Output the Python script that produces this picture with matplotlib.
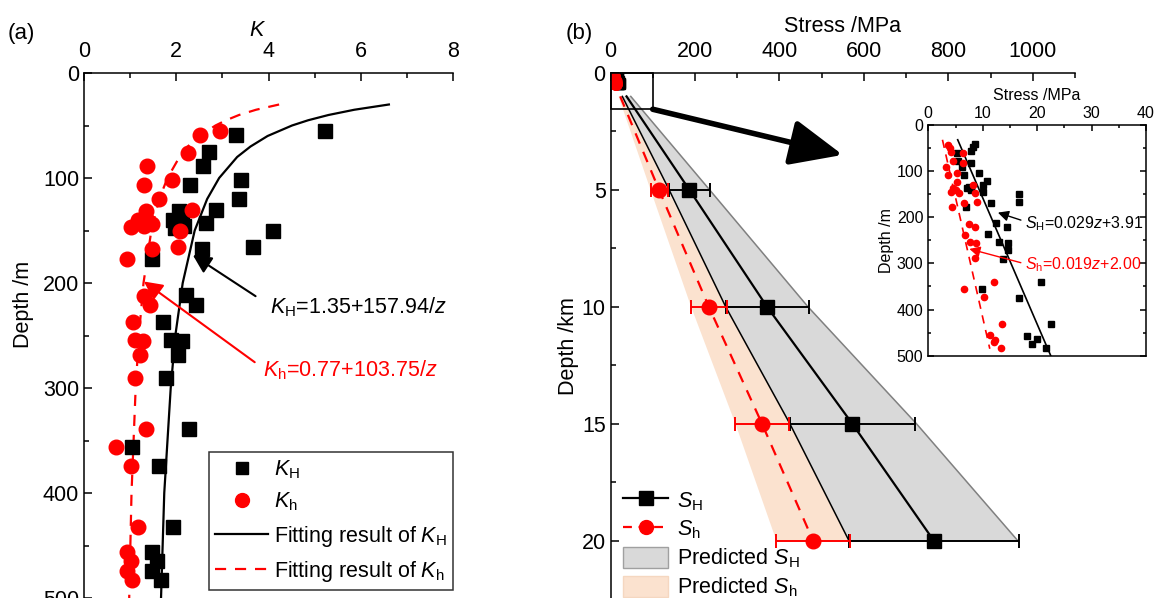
import numpy as np
import matplotlib
matplotlib.use("Agg")
import matplotlib.pyplot as plt
from matplotlib.patches import Rectangle, Patch
from matplotlib.lines import Line2D
from matplotlib.ticker import MultipleLocator

plt.rcParams['font.family'] = ['Liberation Sans', 'DejaVu Sans']
plt.rcParams['mathtext.fontset'] = 'custom'
plt.rcParams['mathtext.rm'] = 'Liberation Sans'
plt.rcParams['mathtext.it'] = 'Liberation Sans:italic'

# ---- panel (a): K ratios vs depth (m)
KH_depth = [55, 59, 75.5, 89, 102, 107, 120, 130.5, 131, 140, 140, 146, 148, 143, 150, 166, 168,
            177.5, 211.5, 221, 237, 254, 255, 269, 290, 339, 356, 374, 432, 456.5, 465, 474, 483]
KH_val = [5.23, 3.29, 2.70, 2.59, 3.40, 2.30, 3.35, 2.86, 2.07, 1.92, 2.13, 2.16, 1.97, 2.64, 4.09, 3.67, 2.55,
          1.47, 2.21, 2.42, 1.72, 1.89, 2.13, 2.03, 1.77, 2.27, 1.03, 1.63, 1.94, 1.47, 1.59, 1.47, 1.67]
Kh_depth = [55, 59, 76, 89, 107, 102, 120, 130.5, 131, 140, 140, 146, 144, 147, 150, 166, 167.6,
            177.5, 212, 221, 237, 254.6, 255.6, 269, 290, 339, 356, 374, 432, 456.5, 465, 474, 483]
Kh_val = [2.95, 2.52, 2.25, 1.36, 1.30, 1.90, 1.63, 2.35, 1.34, 1.16, 1.36, 1.29, 1.47, 1.01, 2.08, 2.03, 1.47,
          0.93, 1.30, 1.43, 1.06, 1.10, 1.28, 1.21, 1.11, 1.34, 0.69, 1.02, 1.16, 0.93, 1.02, 0.93, 1.03]

# fitted curves
fit_depth = [30, 35, 40, 45, 50, 60, 70, 80, 100, 120, 150, 200, 250, 300, 400, 500]
fitKH = [6.61, 5.86, 5.30, 4.86, 4.51, 3.98, 3.61, 3.32, 2.93, 2.67, 2.40, 2.14, 1.98, 1.88, 1.74, 1.67]
fitKh = [4.23, 3.73, 3.36, 3.08, 2.85, 2.50, 2.25, 2.07, 1.81, 1.63, 1.46, 1.29, 1.19, 1.12, 1.03, 0.98]

# ---- panel (b): stress vs depth (km)
pred_depth = [1, 5, 10, 15, 20]
SH_mid = [38, 187, 371, 573, 766]
SH_lo = [28, 139, 273, 425, 565]
SH_hi = [48, 235, 468, 725, 965]
Sh_mid = [23, 115, 233, 359, 480]
Sh_lo = [19, 95, 191, 296, 393]
Sh_hi = [28, 136, 273, 425, 565]

# inset: measured stresses (MPa) vs depth (m)
SH_in_depth = [42, 48, 56, 61, 77, 82, 90, 103, 108, 121, 130, 134, 138, 141, 137, 145, 150, 166, 168,
               178, 213, 222, 237, 253, 256, 270, 291, 340, 355, 374, 432, 457, 464, 475, 484]
SH_in_val = [8.65, 8.2, 7.8, 5.2, 5.5, 7.8, 6.2, 9.3, 6.6, 10.7, 10.1, 7.4, 7.8, 7.9, 7.2, 10.0, 16.6, 16.6, 11.5,
             6.9, 12.5, 14.4, 11.0, 12.9, 14.7, 14.7, 13.8, 20.7, 9.8, 16.6, 22.6, 18.2, 19.9, 19.1, 21.7]
Sh_in_depth = [43, 50, 58, 61, 77, 82, 90, 103, 108, 123, 131, 137, 140, 145, 147, 148, 166, 168, 178,
               215, 222, 238, 254, 256, 289, 340, 355, 373, 431, 455, 466, 470, 484]
Sh_in_val = [3.7, 3.9, 4.2, 6.4, 4.6, 6.4, 3.2, 5.2, 3.7, 5.3, 8.3, 4.6, 5.0, 4.2, 5.6, 8.5, 9.0, 6.6, 4.4,
             7.4, 8.6, 6.7, 7.7, 8.8, 8.6, 12.1, 6.6, 10.3, 13.5, 11.3, 12.3, 12.1, 13.4]
in_fit_depth = [32, 500]
in_fit_SH = [5.4, 22.5]
in_fit_Sh_depth = [32, 485]
in_fit_Sh = [2.6, 11.3]

RED = '#ff0000'
FS = 15.5

fig = plt.figure(figsize=(11.55, 5.98), dpi=100)


def style(ax, fs=FS, major=6, minor=3.5, pad=6):
    ax.xaxis.tick_top()
    ax.xaxis.set_label_position('top')
    ax.tick_params(which='both', direction='in', width=1.1, labelsize=fs, top=True, bottom=False)
    ax.tick_params(which='major', length=major)
    ax.tick_params(which='minor', length=minor)
    ax.tick_params(axis='x', pad=pad)
    for s in ax.spines.values():
        s.set_linewidth(1.1)


# ================= (a)
axa = fig.add_axes([84 / 1155, 0, 369 / 1155, 525 / 598])
axa.plot(fitKH, fit_depth, color='k', lw=1.6, zorder=2)
axa.plot(fitKh, fit_depth, color=RED, lw=1.6, ls=(0, (5, 4)), zorder=2)
axa.plot(KH_val, KH_depth, 's', color='k', ms=9.5, ls='none', zorder=3)
axa.plot(Kh_val, Kh_depth, 'o', color=RED, ms=10.5, ls='none', zorder=3)
axa.set_xlim(0, 8)
axa.set_ylim(500, 0)
style(axa, pad=8)
axa.xaxis.set_major_locator(MultipleLocator(2))
axa.xaxis.set_minor_locator(MultipleLocator(1))
axa.yaxis.set_major_locator(MultipleLocator(100))
axa.yaxis.set_minor_locator(MultipleLocator(50))
axa.spines['right'].set_visible(False)
axa.spines['bottom'].set_visible(False)
axa.set_xlabel('$K$', fontsize=FS)
axa.xaxis.set_label_coords(0.47, 1.07)
axa.set_ylabel('Depth /m', fontsize=FS)
axa.yaxis.set_label_coords(-0.135, 0.56)

axa.annotate('', xy=(2.31, 172), xytext=(3.77, 214),
             arrowprops=dict(arrowstyle='-|>', color='k', lw=1.5, mutation_scale=28))
axa.text(4.03, 223, r'$K_\mathrm{H}$=1.35+157.94/$z$', fontsize=FS, va='center', color='k')
axa.annotate('', xy=(1.25, 197), xytext=(3.75, 277),
             arrowprops=dict(arrowstyle='-|>', color=RED, lw=1.5, mutation_scale=28))
axa.text(3.88, 283, r'$K_\mathrm{h}$=0.77+103.75/$z$', fontsize=FS, va='center', color=RED)

hA = [Line2D([], [], marker='s', color='k', ls='none', ms=9),
      Line2D([], [], marker='o', color=RED, ls='none', ms=10),
      Line2D([], [], color='k', lw=1.6),
      Line2D([], [], color=RED, lw=1.6, ls=(0, (5, 4)))]
lA = [r'$K_\mathrm{H}$', r'$K_\mathrm{h}$', r'Fitting result of $K_\mathrm{H}$', r'Fitting result of $K_\mathrm{h}$']
leg = axa.legend(hA, lA, loc='lower right', bbox_to_anchor=(1.0, 0.015), fontsize=FS, frameon=True,
                 fancybox=False, edgecolor='k', borderaxespad=0, handlelength=2.45, handletextpad=0.25,
                 labelspacing=0.47, borderpad=0.3)
leg.get_frame().set_linewidth(1.1)

# ================= (b)
axb = fig.add_axes([610.5 / 1155, 0, 464.5 / 1155, 525 / 598])
axb.fill_betweenx(pred_depth, SH_lo, SH_hi, facecolor='#d9d9d9', edgecolor='none', zorder=1)
axb.fill_betweenx(pred_depth, Sh_lo, Sh_hi, facecolor='#fbe2cf', edgecolor='none', zorder=1)
axb.plot(SH_hi, pred_depth, color='#808080', lw=1.1, zorder=2)
axb.plot(SH_lo, pred_depth, color='k', lw=1.1, zorder=2)
axb.plot(SH_mid, pred_depth, color='k', lw=1.6, zorder=3)
axb.plot(Sh_mid, pred_depth, color=RED, lw=1.6, ls=(0, (5, 4)), zorder=3)
SH_err = [m - l for m, l in zip(SH_mid, SH_lo)]
Sh_err = [m - l for m, l in zip(Sh_mid, Sh_lo)]
axb.errorbar(SH_mid[1:], pred_depth[1:], xerr=SH_err[1:], fmt='s', color='k', ms=10, capsize=5,
             elinewidth=1.4, capthick=1.4, zorder=4)
axb.errorbar(Sh_mid[1:], pred_depth[1:], xerr=Sh_err[1:], fmt='o', color=RED, ms=10.5, capsize=5,
             elinewidth=1.4, capthick=1.4, zorder=4)
axb.plot(SH_in_val, np.array(SH_in_depth) / 1000, 's', color='k', ms=7, zorder=3)
axb.plot(Sh_in_val, np.array(Sh_in_depth) / 1000, 'o', color=RED, ms=8, zorder=3)
axb.set_xlim(0, 1100)
axb.set_ylim(22.44, 0)
style(axb, pad=8)
axb.xaxis.set_major_locator(MultipleLocator(200))
axb.xaxis.set_minor_locator(MultipleLocator(100))
axb.yaxis.set_major_locator(MultipleLocator(5))
axb.yaxis.set_minor_locator(MultipleLocator(2.5))
axb.spines['right'].set_visible(False)
axb.spines['bottom'].set_visible(False)
axb.set_xlabel('Stress /MPa', fontsize=FS)
axb.xaxis.set_label_coords(0.5, 1.078)
axb.set_ylabel('Depth /km', fontsize=FS)
axb.yaxis.set_label_coords(-0.068, 0.48)
axb.add_patch(Rectangle((0, 0), 100, 1.55, fill=False, ec='k', lw=1.2, zorder=5, clip_on=False))
axb.annotate('', xy=(550, 3.5), xytext=(100, 1.55),
             arrowprops=dict(arrowstyle='-|>,head_length=1.6,head_width=0.7', color='k', lw=4,
                             mutation_scale=20, shrinkA=0, shrinkB=0))

hB = [Line2D([], [], marker='s', color='k', lw=1.6, ms=10),
      Line2D([], [], marker='o', color=RED, lw=1.6, ls=(0, (4, 3)), ms=10),
      Patch(facecolor='#d9d9d9', edgecolor='#a0a0a0'),
      Patch(facecolor='#fbe2cf', edgecolor='#f5d7c0')]
lB = [r'$S_\mathrm{H}$', r'$S_\mathrm{h}$', r'Predicted $S_\mathrm{H}$', r'Predicted $S_\mathrm{h}$']
axb.legend(hB, lB, loc='upper left', bbox_to_anchor=(0.018, 0.215), fontsize=FS, frameon=False,
           handlelength=2.1, handleheight=1.1, handletextpad=0.4, labelspacing=0.25, borderaxespad=0,
           borderpad=0.2)

# ================= inset
axi = fig.add_axes([928.3 / 1155, 1 - 355.7 / 598, 217.7 / 1155, 230.7 / 598])
axi.plot(in_fit_SH, in_fit_depth, color='k', lw=1.2)
axi.plot(in_fit_Sh, in_fit_Sh_depth, color=RED, lw=1.2, ls=(0, (5, 4)))
axi.plot(SH_in_val, SH_in_depth, 's', color='k', ms=4)
axi.plot(Sh_in_val, Sh_in_depth, 'o', color=RED, ms=4.5)
axi.set_xlim(0, 40)
axi.set_ylim(500, 0)
style(axi, fs=11.5, major=4, minor=2.5, pad=3)
axi.tick_params(which='both', right=True)
axi.xaxis.set_major_locator(MultipleLocator(10))
axi.xaxis.set_minor_locator(MultipleLocator(5))
axi.yaxis.set_major_locator(MultipleLocator(100))
axi.yaxis.set_minor_locator(MultipleLocator(50))
axi.set_xlabel('Stress /MPa', fontsize=11.5, labelpad=4)
axi.set_ylabel('Depth /m', fontsize=11.5, labelpad=2)
axi.annotate('', xy=(12.3, 188), xytext=(17.5, 208),
             arrowprops=dict(arrowstyle='-|>', color='k', lw=1.0, mutation_scale=16))
axi.text(17.8, 213, r'$S_\mathrm{H}$=0.029$z$+3.91', fontsize=11.5, va='center', color='k')
axi.annotate('', xy=(7.05, 267), xytext=(17.5, 300),
             arrowprops=dict(arrowstyle='-|>', color=RED, lw=1.0, mutation_scale=16))
axi.text(17.8, 303, r'$S_\mathrm{h}$=0.019$z$+2.00', fontsize=11.5, va='center', color=RED)

fig.text(8 / 1155, 1 - 33 / 598, '(a)', fontsize=16, va='center')
fig.text(566 / 1155, 1 - 33 / 598, '(b)', fontsize=16, va='center')

fig.savefig('out.png', dpi=100)
